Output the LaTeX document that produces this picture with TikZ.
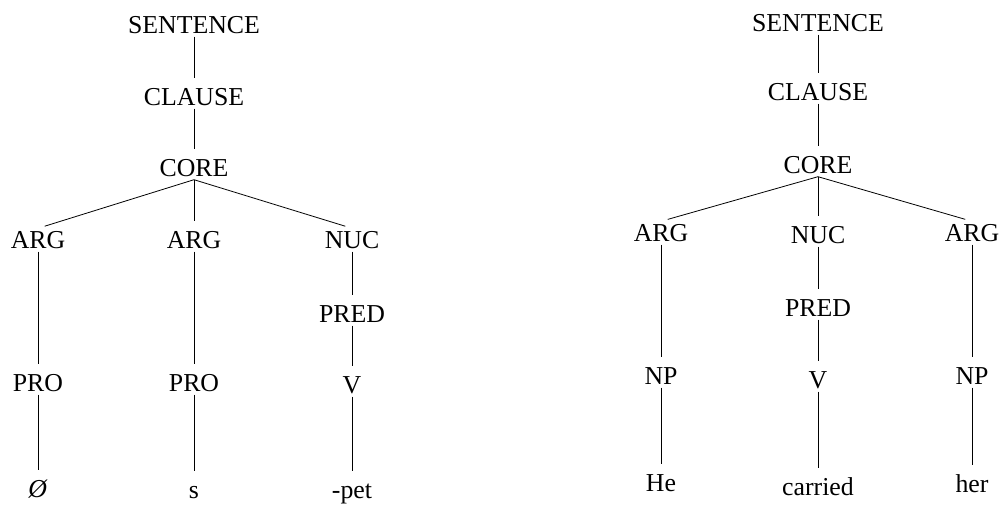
\documentclass[tikz,border=0pt]{standalone}
\usepackage{fontspec}
\setmainfont{Liberation Serif}

\begin{document}
\begin{tikzpicture}[x=1pt, y=-1pt,
    every node/.style={font=\fontsize{25.8}{30}\selectfont, text height=17pt, text depth=0pt, inner sep=3pt},
    br/.style={draw, line width=0.8pt, shorten >=7pt}]
    \useasboundingbox (0,0) rectangle (1005,508);

    \node (s1) at (194,25) {SENTENCE};
    \node (c1) at (194,97) {CLAUSE};
    \node (k1) at (194,168) {CORE};
    \node (a1) at (38,240) {ARG};
    \node (a2) at (194,240) {ARG};
    \node (n1) at (352,240) {NUC};
    \node (p1) at (38,383) {PRO};
    \node (p2) at (194,383) {PRO};
    \node (r1) at (352,314) {PRED};
    \node (v1) at (352,385) {V};
    \node (z1) at (38,489) {\textit{\O}};
    \node (x1) at (194,490) {s};
    \node (x2) at (352,490) {-pet};

    \node (s2) at (818,23) {SENTENCE};
    \node (c2) at (818,92) {CLAUSE};
    \node (k2) at (818,165) {CORE};
    \node (a3) at (661,233) {ARG};
    \node (n2) at (818,235) {NUC};
    \node (a4) at (972,233) {ARG};
    \node (q1) at (661,376) {NP};
    \node (r2) at (818,308) {PRED};
    \node (q2) at (972,376) {NP};
    \node (v2) at (818,380) {V};
    \node (he) at (661,483) {He};
    \node (ca) at (818,487) {carried};
    \node (her) at (972,484) {her};

    \draw[br] (s1.south) -- (c1.north);
    \draw[br] (c1.south) -- (k1.north);
    \draw[br] (k1.south) -- (a1.north);
    \draw[br] (k1.south) -- (a2.north);
    \draw[br] (k1.south) -- (n1.north);
    \draw[br] (a1.south) -- (p1.north);
    \draw[br] (a2.south) -- (p2.north);
    \draw[br] (n1.south) -- (r1.north);
    \draw[br] (r1.south) -- (v1.north);
    \draw[br] (p1.south) -- (z1.north);
    \draw[br] (p2.south) -- (x1.north);
    \draw[br] (v1.south) -- (x2.north);

    \draw[br] (s2.south) -- (c2.north);
    \draw[br] (c2.south) -- (k2.north);
    \draw[br] (k2.south) -- (a3.north);
    \draw[br] (k2.south) -- (n2.north);
    \draw[br] (k2.south) -- (a4.north);
    \draw[br] (a3.south) -- (q1.north);
    \draw[br] (n2.south) -- (r2.north);
    \draw[br] (a4.south) -- (q2.north);
    \draw[br] (q1.south) -- (he.north);
    \draw[br] (r2.south) -- (v2.north);
    \draw[br] (v2.south) -- (ca.north);
    \draw[br] (q2.south) -- (her.north);
\end{tikzpicture}
\end{document}
